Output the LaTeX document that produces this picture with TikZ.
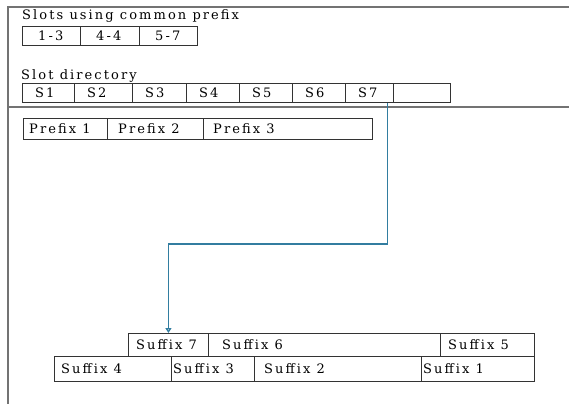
\documentclass[tikz,border=0pt]{standalone}
\usepackage{fontspec}
\setmainfont{DejaVu Serif}[LetterSpace=16]
\usetikzlibrary{arrows.meta}

\newcommand{\cell}[7]{% name, x1, x2, y1, y2, inset, text
  \node[cell, anchor=north west, minimum width=#3pt-#2pt, minimum height=#5pt-#4pt] (#1) at (#2,#4) {};
  \node[txt, anchor=west] (#1-t) at ([xshift=#6pt]#1.west) {#7};
}

\begin{document}
\begin{tikzpicture}[x=1pt, y=-1pt,
  cell/.style={draw=black!80, line width=0.9pt, inner sep=0pt},
  txt/.style={inner sep=0pt, font=\fontsize{13}{15}\selectfont, text=black},
  frame/.style={draw=black!55, line width=1.4pt},
  ptr/.style={draw={rgb,255:red,50;green,125;blue,160}, line width=1.3pt, -{Triangle[open, length=5pt, width=6pt]}}]
  \useasboundingbox (0,0) rectangle (569,404);

  % 外枠
  \draw[frame] (569,7) -- (8,7) -- (8,404);
  \draw[frame] (8,107) -- (569,107);

  % 共通プレフィックスを使うスロット
  \node[txt, anchor=base west] (sluse) at (22,20) {Slots using common prefix};
  \cell{r1}{22}{80}{26}{45}{16}{1-3}
  \cell{r2}{80}{139}{26}{45}{16}{4-4}
  \cell{r3}{139}{197}{26}{45}{16}{5-7}

  % スロットディレクトリ
  \node[txt, anchor=base west] (sldir) at (21,79) {Slot directory};
  \foreach \a/\b/\n in {22/74/1, 74/132/2, 132/186/3, 186/239/4, 239/292/5, 292/345/6, 345/393/7}
    \cell{s\n}{\a}{\b}{83}{102}{13}{S\n};
  \cell{s8}{393}{450}{83}{102}{0}{}

  % プレフィックス
  \cell{p1}{23}{107}{118}{139}{6}{Prefix 1}
  \cell{p2}{107}{203}{118}{139}{11}{Prefix 2}
  \cell{p3}{203}{372}{118}{139}{10}{Prefix 3}

  % サフィックス
  \cell{suf7}{128}{208}{333}{356}{8}{Suffix 7}
  \cell{suf6}{208}{440}{333}{356}{14}{Suffix 6}
  \cell{suf5}{440}{534}{333}{356}{8}{Suffix 5}
  \cell{suf4}{54}{171}{356}{381}{7}{Suffix 4}
  \cell{suf3}{171}{254}{356}{381}{2}{Suffix 3}
  \cell{suf2}{254}{421}{356}{381}{10}{Suffix 2}
  \cell{suf1}{421}{534}{356}{381}{2}{Suffix 1}

  % S7からSuffix 7へのポインタ
  \coordinate (s7out) at ([xshift=18pt]s7.south);
  \draw[ptr] (s7out) -- ++(0,141) -| (suf7.north);
\end{tikzpicture}
\end{document}
